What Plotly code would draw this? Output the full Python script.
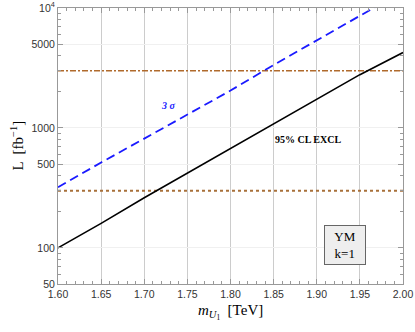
import plotly.graph_objects as go

mass = [1.60, 1.65, 1.70, 1.75, 1.80, 1.85, 1.90, 1.95, 2.00]
excl95 = [100, 160, 262, 420, 665, 1080, 1730, 2780, 4250]
disc3s = [320, 515, 815, 1285, 2050, 3350, 5400, 8700, 13800]
lumi_low = 300
lumi_high = 3000

ytickvals = [50, 100, 500, 1000, 5000, 10000]
yticktext = ["50", "100", "500", "1000", "5000", "10<sup>4</sup>"]
xtickvals = [1.60, 1.65, 1.70, 1.75, 1.80, 1.85, 1.90, 1.95, 2.00]
xticktext = ["1.60", "1.65", "1.70", "1.75", "1.80", "1.85", "1.90", "1.95", "2.00"]

yminor = [60, 70, 80, 90, 200, 300, 400, 600, 700, 800, 900,
          2000, 3000, 4000, 6000, 7000, 8000, 9000]
xminor = [round(1.60 + 0.01 * i, 2) for i in range(41)]

fig = go.Figure()
fig.add_trace(go.Scatter(x=[mass[0], mass[-1]], y=[lumi_low, lumi_low], mode="lines",
                         line=dict(color="#a8703a", width=2, dash="dot"), hoverinfo="skip"))
fig.add_trace(go.Scatter(x=[mass[0], mass[-1]], y=[lumi_high, lumi_high], mode="lines",
                         line=dict(color="#b06a2c", width=1.6, dash="6px,2px,2px,2px"), hoverinfo="skip"))
fig.add_trace(go.Scatter(x=mass, y=disc3s, mode="lines",
                         line=dict(color="#1a1aff", width=1.8, dash="9px,5px")))
fig.add_trace(go.Scatter(x=mass, y=excl95, mode="lines",
                         line=dict(color="black", width=1.6)))

serif = "Liberation Serif, Times New Roman, serif"
tickfont = dict(family="Liberation Sans, Arial, sans-serif", size=10.5, color="#333333")
fig.update_layout(
    width=415, height=332,
    margin=dict(l=58, r=12, t=8, b=48, autoexpand=False),
    paper_bgcolor="white", plot_bgcolor="white",
    showlegend=False,
    xaxis=dict(range=[1.60, 2.00], tickmode="array", tickvals=xtickvals, ticktext=xticktext,
               ticks="inside", ticklen=5, tickcolor="#999999", showline=True, linecolor="#999999",
               linewidth=1, mirror="allticks", showgrid=True, gridcolor="#cccccc", gridwidth=1,
               zeroline=False, tickfont=tickfont, automargin=False,
               minor=dict(tickmode="array", tickvals=xminor, ticks="inside", ticklen=3,
                          tickcolor="#999999", showgrid=False)),
    yaxis=dict(type="log", range=[1.69897, 4], tickmode="array", tickvals=ytickvals, ticktext=yticktext,
               ticks="inside", ticklen=5, tickcolor="#999999", showline=True, linecolor="#999999",
               linewidth=1, mirror="allticks", showgrid=True, gridcolor="#f0f0f0", gridwidth=1,
               zeroline=False, tickfont=tickfont, automargin=False,
               minor=dict(tickmode="array", tickvals=yminor, ticks="inside", ticklen=3,
                          tickcolor="#999999", showgrid=False)),
    annotations=[
        dict(x=0.5, y=-0.10, xref="paper", yref="paper", yanchor="middle",
             text="<i>m</i><sub><i>U</i><sub>1</sub></sub>  [TeV]", showarrow=False,
             font=dict(family=serif, size=15, color="black")),
        dict(x=-0.12, y=0.5, xref="paper", yref="paper", xanchor="center", textangle=-90,
             text="L  [fb<sup>−1</sup>]", showarrow=False,
             font=dict(family=serif, size=15, color="black")),
        dict(x=1.728, y=3.185, xref="x", yref="y", text="<b><i>3 σ</i></b>", showarrow=False,
             font=dict(family=serif, size=10, color="#1a1aff")),
        dict(x=1.8896, y=2.903, xref="x", yref="y", text="<b>95% CL EXCL</b>", showarrow=False,
             font=dict(family=serif, size=10, color="black")),
        dict(x=0.894, y=0.069, xref="paper", yref="paper", xanchor="right", yanchor="bottom",
             text="YM<br>k=1", showarrow=False, width=34, height=32, align="center",
             bgcolor="#eeeeee", bordercolor="#666666", borderwidth=1, borderpad=3,
             font=dict(family=serif, size=13, color="black")),
    ],
)

fig.write_html("out.html", config={"displayModeBar": False},
               post_script="document.body.style.margin='0';document.body.style.padding='0';")
